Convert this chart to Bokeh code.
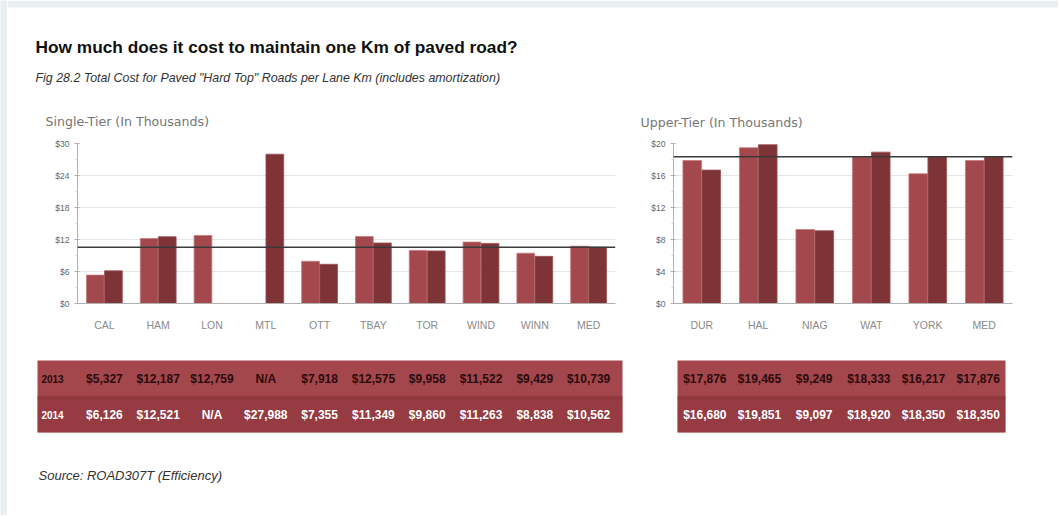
from bokeh.plotting import figure
from bokeh.layouts import column, row
from bokeh.models import FactorRange, Range1d, FixedTicker, Span, ColumnDataSource, PrintfTickFormatter, BoxAnnotation
from bokeh.transform import dodge
from bokeh.core.properties import value
from bokeh.embed import file_html
from bokeh.resources import INLINE

# ---------------- data ----------------
TITLE = "How much does it cost to maintain one Km of paved road?"
SUBTITLE = 'Fig 28.2  Total Cost for Paved "Hard Top" Roads per Lane Km (includes amortization)'
SINGLE_TITLE = "Single-Tier (In Thousands)"
UPPER_TITLE = "Upper-Tier (In Thousands)"
SOURCE = "Source: ROAD307T (Efficiency)"

years = ["2013", "2014"]
single_cats = ["CAL", "HAM", "LON", "MTL", "OTT", "TBAY", "TOR", "WIND", "WINN", "MED"]
single_2013 = [5327, 12187, 12759, None, 7918, 12575, 9958, 11522, 9429, 10739]
single_2014 = [6126, 12521, None, 27988, 7355, 11349, 9860, 11263, 8838, 10562]
upper_cats = ["DUR", "HAL", "NIAG", "WAT", "YORK", "MED"]
upper_2013 = [17876, 19465, 9249, 18333, 16217, 17876]
upper_2014 = [16680, 19851, 9097, 18920, 18350, 18350]
single_ticks = [0, 6, 12, 18, 24, 30]
upper_ticks = [0, 4, 8, 12, 16, 20]

# ---------------- styles ----------------
C13 = "#a3494d"
C14 = "#7e3337"
ROW13 = "#a4474c"
ROW14 = "#953b41"
TXT13 = "#2b0b0d"
TXT14 = "#ffffff"
PAGE_GRAY = "#e9eef1"
FONT = "Liberation Sans"
STRIP = 7
W = 1051
H = 515


def fmt(v):
    return "N/A" if v is None else "${:,}".format(v)


def blank(width, height, bg="white"):
    p = figure(width=width, height=height, x_range=Range1d(0, width), y_range=Range1d(height, 0),
               x_axis_location=None, y_axis_location=None, min_border=0,
               outline_line_color=None, output_backend="svg", toolbar_location=None,
               background_fill_color=bg, border_fill_color=bg)
    p.grid.visible = False
    return p


def make_chart(cats, v13, v14, ticks, width, bl, br):
    p = figure(width=width, height=208, x_range=FactorRange(*cats), y_range=Range1d(0, ticks[-1]),
               output_backend="svg", toolbar_location=None, min_border=0,
               outline_line_color=None)
    p.min_border_left = bl
    p.min_border_right = br
    p.min_border_top = 11
    p.min_border_bottom = 37
    s13 = ColumnDataSource(dict(cat=[c for c, v in zip(cats, v13) if v is not None],
                                top=[v / 1000 for v in v13 if v is not None]))
    s14 = ColumnDataSource(dict(cat=[c for c, v in zip(cats, v14) if v is not None],
                                top=[v / 1000 for v in v14 if v is not None]))
    p.vbar(x=dodge("cat", -0.168, range=p.x_range), top="top", width=0.33, source=s13,
           fill_color=C13, line_color="#c47a7d", line_width=0.8)
    p.vbar(x=dodge("cat", 0.168, range=p.x_range), top="top", width=0.33, source=s14,
           fill_color=C14, line_color="#9a5256", line_width=0.8)
    # median reference line (MED 2014)
    p.add_layout(Span(location=v14[-1] / 1000, dimension="width", line_color="#3a3a3a", line_width=1.5))

    p.yaxis.ticker = FixedTicker(ticks=ticks, minor_ticks=[(a + b) / 2 for a, b in zip(ticks[:-1], ticks[1:])])
    p.yaxis.formatter = PrintfTickFormatter(format="$%d")
    p.yaxis.major_label_text_font = FONT
    p.yaxis.major_label_text_font_size = "8.5px"
    p.yaxis.major_label_text_color = "#666666"
    p.yaxis.axis_line_color = "#b0b0b0"
    p.yaxis.major_tick_line_color = "#b0b0b0"
    p.yaxis.minor_tick_line_color = "#d0d0d0"
    p.yaxis.major_tick_out = 3
    p.yaxis.major_tick_in = 2
    p.yaxis.minor_tick_out = 2
    p.yaxis.minor_tick_in = 1
    p.yaxis.major_label_standoff = 5

    p.xaxis.major_tick_line_color = None
    p.xaxis.minor_tick_line_color = None
    p.xaxis.axis_line_color = "#b0b0b0"
    p.xaxis.major_label_text_font = FONT
    p.xaxis.major_label_text_font_size = "10.5px"
    p.xaxis.major_label_text_color = "#8a8a8a"
    p.xaxis.major_label_standoff = 9

    p.xgrid.grid_line_color = None
    p.ygrid.grid_line_color = "#e6e6e6"
    return p


def make_table(cats, v13, v14, width, bl, br, x0, x1, with_year):
    p = figure(width=width, height=100, x_range=Range1d(x0, x1), y_range=Range1d(0, 2),
               x_axis_location=None, y_axis_location=None, min_border=0,
               outline_line_color=None, output_backend="svg", toolbar_location=None,
               background_fill_color=ROW13)
    p.min_border_left = bl
    p.min_border_right = br
    p.min_border_top = 20
    p.min_border_bottom = 8
    p.grid.visible = False
    p.add_layout(BoxAnnotation(top=1, fill_color=ROW14, fill_alpha=1, line_color=None, level="underlay"))
    p.add_layout(BoxAnnotation(bottom=0.92, top=1.02, fill_color="#8a3338", fill_alpha=0.5,
                               line_color=None, level="underlay"))
    xs = [i + 0.5 for i in range(len(cats))]
    common = dict(text_font=value(FONT), text_font_style="bold", text_font_size="12px",
                  text_align="center", text_baseline="middle")
    p.text(x=xs, y=[1.5] * len(xs), text=[fmt(v) for v in v13], text_color=TXT13, **common)
    p.text(x=xs, y=[0.5] * len(xs), text=[fmt(v) for v in v14], text_color=TXT14, **common)
    if with_year:
        yc = dict(common)
        yc["text_font_size"] = "10px"
        p.text(x=[x0 * 0.625] * 2, y=[1.5, 0.5], text=years, text_color=[TXT13, TXT14], **yc)
    return p


# left gray page strip
strip = blank(STRIP, H, PAGE_GRAY)

# header (top gray strip + titles)
hdr = blank(W, 132)
hdr.quad(left=[0], right=[W], top=[0], bottom=[STRIP], fill_color=PAGE_GRAY, line_color=None)
hdr.text(x=[28], y=[46], text=[TITLE], text_font=value(FONT), text_font_style="bold",
         text_font_size="17.3px", text_color="#111111", text_baseline="middle")
hdr.text(x=[28], y=[77], text=[SUBTITLE], text_font=value(FONT), text_font_style="italic",
         text_font_size="12.4px", text_color="#333333", text_baseline="middle")
hdr.text(x=[38, 633], y=[121, 122], text=[SINGLE_TITLE, UPPER_TITLE], text_font=value("DejaVu Sans"),
         text_font_size="12.6px", text_color="#767676", text_baseline="middle")

left = make_chart(single_cats, single_2013, single_2014, single_ticks, 633, 70, 25)
right = make_chart(upper_cats, upper_2013, upper_2014, upper_ticks, 418, 33, 46)

lt = make_table(single_cats, single_2013, single_2014, 633, 30, 18,
                -(77 - 37) / 53.8, 10 + (622 - 615) / 53.8, True)
rt = make_table(upper_cats, upper_2013, upper_2014, 418, 37, 53, 0, len(upper_cats), False)

ftr = blank(W, H - 132 - 208 - 100)
ftr.text(x=[31], y=[35], text=[SOURCE], text_font=value(FONT), text_font_style="italic",
         text_font_size="13px", text_color="#333333", text_baseline="middle")

layout = row(strip, column(hdr, row(left, right), row(lt, rt), ftr))
open("out.html", "w").write(file_html(layout, INLINE))
